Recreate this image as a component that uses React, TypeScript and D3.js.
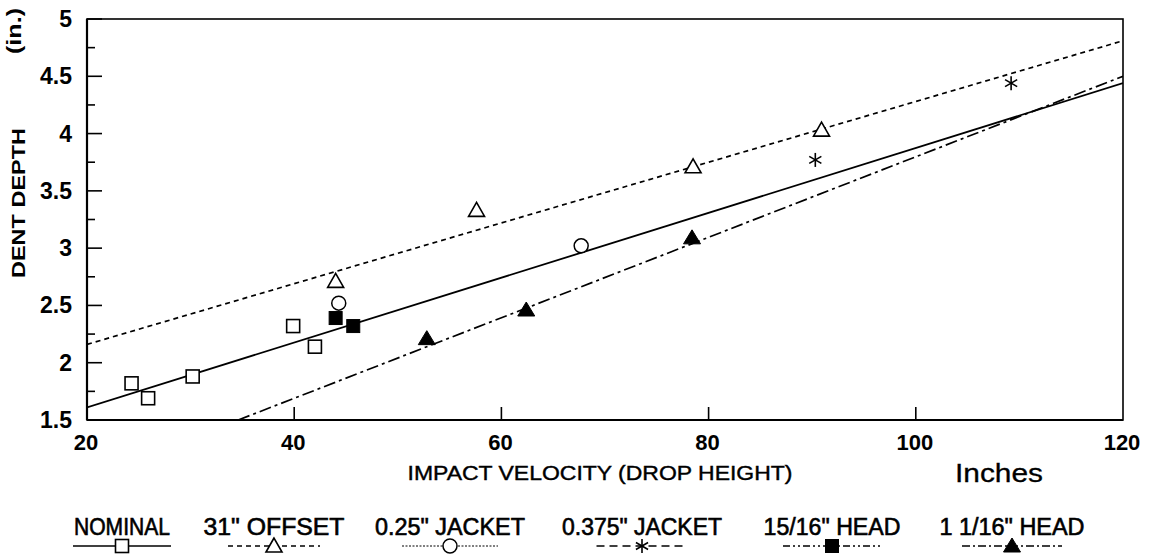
import React from "react";
import * as d3 from "d3";

// ---- data ----
const nominalX = [24.3, 25.9, 30.2, 39.9, 42.0];
const nominalY = [1.82, 1.69, 1.88, 2.32, 2.14];
const offsetX = [44.0, 57.6, 78.5, 90.9];
const offsetY = [2.71, 3.33, 3.71, 4.03];
const jacket25X = [44.3, 67.7];
const jacket25Y = [2.52, 3.02];
const jacket375X = [90.3, 109.2];
const jacket375Y = [3.77, 4.44];
const head1516X = [44.0, 45.7];
const head1516Y = [2.39, 2.32];
const head1116X = [52.8, 62.4, 78.4];
const head1116Y = [2.21, 2.46, 3.09];

// fitted lines (endpoints)
const nominalFitX = [20, 120];
const nominalFitY = [1.61, 4.44];
const offsetFitX = [20, 120];
const offsetFitY = [2.16, 4.81];
const head1116FitX = [34.6, 120];
const head1116FitY = [1.5, 4.5];

const xTicks = [20, 40, 60, 80, 100, 120];
const yTicks = [1.5, 2, 2.5, 3, 3.5, 4, 4.5, 5];
const yMinor = [1.75, 2.25, 2.75, 3.25, 3.75, 4.25, 4.75];

const legendLabels = ['NOMINAL', '31" OFFSET', '0.25" JACKET', '0.375" JACKET', '15/16" HEAD', '1 1/16" HEAD'];

const W = 1150, H = 555;
const L = 87, R = 1123, T = 19, B = 420;
const FONT = "'Liberation Sans', Arial, Helvetica, sans-serif";

const x = d3.scaleLinear().domain([20, 120]).range([L, R]);
const y = d3.scaleLinear().domain([1.5, 5]).range([B, T]);

type Sym = "sq" | "tri" | "circ" | "ast" | "fsq" | "ftri";

function Marker({ cx, cy, s }: { cx: number; cy: number; s: Sym }) {
  const k = "#000";
  switch (s) {
    case "sq":
      return <rect x={cx - 6.5} y={cy - 6.5} width={13} height={13} fill="#fff" stroke={k} strokeWidth={1.6} />;
    case "fsq":
      return <rect x={cx - 6.5} y={cy - 6.5} width={13} height={13} fill={k} stroke={k} strokeWidth={1} />;
    case "tri": {
      const p = `${cx},${cy - 8} ${cx - 8},${cy + 6} ${cx + 8},${cy + 6}`;
      return <polygon points={p} fill="#fff" stroke={k} strokeWidth={1.6} />;
    }
    case "ftri": {
      const p = `${cx},${cy - 8} ${cx - 8.5},${cy + 6} ${cx + 8.5},${cy + 6}`;
      return <polygon points={p} fill={k} stroke={k} strokeWidth={1} />;
    }
    case "circ":
      return <circle cx={cx} cy={cy} r={7} fill="#fff" stroke={k} strokeWidth={1.5} />;
    case "ast": {
      const r = 7;
      const segs = [0, 60, 120].map((a) => {
        const t = ((a + 90) * Math.PI) / 180;
        return (
          <line key={a} x1={cx - r * Math.cos(t)} y1={cy - r * Math.sin(t)} x2={cx + r * Math.cos(t)} y2={cy + r * Math.sin(t)} stroke={k} strokeWidth={1.6} />
        );
      });
      return <g>{segs}</g>;
    }
  }
  return null;
}

const legendCenters = [122, 274, 450, 642, 832, 1012];
const legendTextLen = [96, 141, 150, 160, 137, 145];
const legendSyms: Sym[] = ["sq", "tri", "circ", "ast", "fsq", "ftri"];
const legendDash = ["", "5,4", "2,1.5", "8,5", "7,3,2,3,2,3", "8,3,2,3"];
const legendWidth = [98, 92, 96, 91, 98, 100];

export default function App() {
  const line = d3.line<[number, number]>().x((d) => x(d[0])).y((d) => y(d[1]));
  const mk = (xs: number[], ys: number[]) => xs.map((v, i) => [v, ys[i]] as [number, number]);

  const series: { xs: number[]; ys: number[]; s: Sym }[] = [
    { xs: nominalX, ys: nominalY, s: "sq" },
    { xs: offsetX, ys: offsetY, s: "tri" },
    { xs: jacket25X, ys: jacket25Y, s: "circ" },
    { xs: jacket375X, ys: jacket375Y, s: "ast" },
    { xs: head1516X, ys: head1516Y, s: "fsq" },
    { xs: head1116X, ys: head1116Y, s: "ftri" },
  ];

  return (
    <svg width={W} height={H} style={{ position: "absolute", left: 0, top: 0, background: "#fff" }} fontFamily={FONT}>
      <defs>
        <clipPath id="plot">
          <rect x={L} y={T} width={R - L} height={B - T} />
        </clipPath>
      </defs>
      <rect x={0} y={0} width={W} height={H} fill="#fff" />

      {/* fit lines */}
      <g clipPath="url(#plot)" fill="none" stroke="#000">
        <path d={line(mk(nominalFitX, nominalFitY)) || ""} strokeWidth={1.8} />
        <path d={line(mk(offsetFitX, offsetFitY)) || ""} strokeWidth={1.7} strokeDasharray="5,4" />
        <path d={line(mk(head1116FitX, head1116FitY)) || ""} strokeWidth={1.7} strokeDasharray="12,4,3,4" />
      </g>

      {/* frame */}
      <rect x={L} y={T} width={R - L} height={B - T} fill="none" stroke="#000" strokeWidth={1.6} />
      <line x1={L} y1={T} x2={L} y2={B} stroke="#000" strokeWidth={2.2} />
      <line x1={L} y1={B} x2={R} y2={B} stroke="#000" strokeWidth={2} />

      {/* y ticks */}
      {yTicks.map((t) => (
        <g key={t}>
          <line x1={L} x2={L + 15} y1={y(t)} y2={y(t)} stroke="#000" strokeWidth={1.6} />
          <text x={72} y={y(t) + 8} textAnchor="end" fontSize={23} fontWeight="bold">
            {String(t)}
          </text>
        </g>
      ))}
      {yMinor.map((t) => (
        <line key={t} x1={L} x2={L + 8} y1={y(t)} y2={y(t)} stroke="#000" strokeWidth={1.6} />
      ))}

      {/* x ticks */}
      {xTicks.map((t) => (
        <g key={t}>
          {t > 20 && t < 120 && <line x1={x(t)} x2={x(t)} y1={B} y2={B - 13} stroke="#000" strokeWidth={1.6} />}
          <text x={x(t) - 1} y={450} textAnchor="middle" fontSize={22} fontWeight="bold">
            {String(t)}
          </text>
        </g>
      ))}

      {/* axis titles */}
      <text x={600} y={480} textAnchor="middle" fontSize={20} stroke="#000" strokeWidth={0.4} textLength={385} lengthAdjust="spacingAndGlyphs">
        IMPACT VELOCITY (DROP HEIGHT)
      </text>
      <text x={955} y={482} fontSize={25} stroke="#000" strokeWidth={0.3} textLength={88} lengthAdjust="spacingAndGlyphs">
        Inches
      </text>
      <text transform="translate(25,203) rotate(-90)" textAnchor="middle" fontSize={19} fontWeight="bold" textLength={150} lengthAdjust="spacingAndGlyphs">
        DENT DEPTH
      </text>
      <text transform="translate(21,31) rotate(-90)" textAnchor="middle" fontSize={21} fontWeight="bold" textLength={46} lengthAdjust="spacingAndGlyphs">
        (in.)
      </text>

      {/* markers */}
      {series.map((sr, si) =>
        sr.xs.map((v, i) => <Marker key={si + "-" + i} cx={x(v)} cy={y(sr.ys[i])} s={sr.s} />)
      )}

      {/* legend */}
      {legendLabels.map((lab, i) => {
        const c = legendCenters[i];
        const w = legendWidth[i];
        return (
          <g key={lab}>
            <text x={c} y={535} textAnchor="middle" fontSize={23} stroke="#000" strokeWidth={0.6} textLength={legendTextLen[i]} lengthAdjust="spacingAndGlyphs">
              {lab}
            </text>
            <line x1={c - w / 2} x2={c + w / 2} y1={546} y2={546} stroke="#000" strokeWidth={i === 2 ? 1 : 1.6} strokeDasharray={legendDash[i] || undefined} />
            <Marker cx={c} cy={546} s={legendSyms[i]} />
          </g>
        );
      })}
    </svg>
  );
}
